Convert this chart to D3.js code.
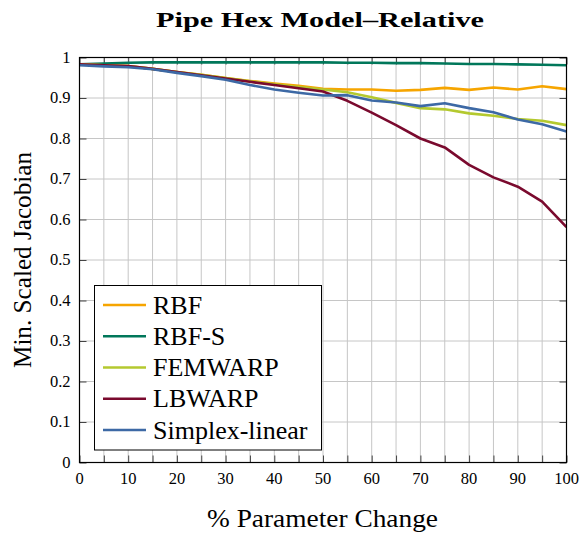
<!DOCTYPE html>
<html>
<head>
<meta charset="utf-8">
<script src="https://cdn.jsdelivr.net/npm/d3@7"></script>
<style>
  html, body { margin: 0; padding: 0; background: #fff; }
  svg text { font-family: "Liberation Serif", "DejaVu Serif", serif; fill: #000; }
</style>
</head>
<body>
<svg id="chart" width="583" height="538"></svg>
<script>
// ---- data ----
const paramChange = [0,5,10,15,20,25,30,35,40,45,50,55,60,65,70,75,80,85,90,95,100];
const seriesNames = ["RBF","RBF-S","FEMWARP","LBWARP","Simplex-linear"];
const rbf       = [0.983,0.981,0.979,0.972,0.964,0.957,0.949,0.942,0.936,0.930,0.923,0.921,0.921,0.918,0.920,0.925,0.920,0.926,0.921,0.929,0.922];
const rbfS      = [0.983,0.985,0.987,0.988,0.988,0.988,0.988,0.988,0.988,0.988,0.988,0.987,0.987,0.986,0.986,0.985,0.984,0.984,0.983,0.982,0.981];
const femwarp   = [0.983,0.981,0.979,0.972,0.964,0.957,0.949,0.941,0.934,0.927,0.921,0.914,0.902,0.888,0.875,0.872,0.862,0.856,0.848,0.844,0.833];
const lbwarp    = [0.983,0.981,0.979,0.972,0.964,0.956,0.948,0.940,0.932,0.924,0.916,0.893,0.864,0.833,0.800,0.778,0.735,0.704,0.681,0.644,0.581];
const simplex   = [0.981,0.978,0.976,0.971,0.962,0.954,0.945,0.932,0.921,0.913,0.906,0.907,0.894,0.889,0.880,0.887,0.875,0.865,0.847,0.835,0.817];
const xTickLabels = [0,10,20,30,40,50,60,70,80,90,100];
const yTickLabels = [0,0.1,0.2,0.3,0.4,0.5,0.6,0.7,0.8,0.9,1];
const colors = ["#f6a500","#00775a","#b4c92f","#7a0a2e","#3d69a5"];
const seriesValues = [rbf, rbfS, femwarp, lbwarp, simplex];
// draw order (later on top): RBF-S, RBF, FEMWARP, LBWARP, Simplex
const drawOrder = [1,0,2,3,4];

// ---- layout ----
const svg = d3.select("#chart");
const L = 79.5, R = 566.5, T = 57.5, B = 462.5;
const x = d3.scaleLinear().domain([0,100]).range([L,R]);
const y = d3.scaleLinear().domain([0,1]).range([B,T]);

const minorX = d3.range(0,101,5);
const gridY = d3.range(0,11).map(d=>d/10);

// grid
const g = svg.append("g");
g.selectAll("line.gx").data(minorX.filter(d=>d>0&&d<100)).enter().append("line")
  .attr("x1",d=>x(d)).attr("x2",d=>x(d)).attr("y1",T).attr("y2",B)
  .attr("stroke","#c6c6c6").attr("stroke-width",1);
g.selectAll("line.gy").data(gridY.filter(d=>d>0&&d<1)).enter().append("line")
  .attr("x1",L).attr("x2",R).attr("y1",d=>y(d)).attr("y2",d=>y(d))
  .attr("stroke","#c6c6c6").attr("stroke-width",1);

// ticks (inward, all four sides)
const tl = 7, tc = "#444";
const axB = d3.axisBottom(x).tickValues(minorX).tickSize(-tl).tickFormat("");
const axT = d3.axisTop(x).tickValues(minorX).tickSize(-tl).tickFormat("");
const axLft = d3.axisLeft(y).tickValues(gridY).tickSize(-tl).tickFormat("");
const axRt = d3.axisRight(y).tickValues(gridY).tickSize(-tl).tickFormat("");
[[axB,`translate(0,${B})`],[axT,`translate(0,${T})`],[axLft,`translate(${L},0)`],[axRt,`translate(${R},0)`]].forEach(([ax,tr])=>{
  const a = svg.append("g").attr("transform",tr).call(ax);
  a.select(".domain").remove();
  a.selectAll("line").attr("stroke",tc).attr("stroke-width",1);
});

// tick labels
svg.selectAll("text.xt").data(xTickLabels).enter().append("text")
  .attr("x",d=>x(d)).attr("y",B+21).attr("text-anchor","middle")
  .attr("font-size",16.5).text(d=>d);
svg.selectAll("text.yt").data(yTickLabels).enter().append("text")
  .attr("x",L-9).attr("y",d=>y(d)+5).attr("text-anchor","end")
  .attr("font-size",16.5).text(d=>d);

// lines
const line = d3.line().x((d,i)=>x(paramChange[i])).y(d=>y(d));
svg.append("clipPath").attr("id","clip").append("rect")
  .attr("x",L).attr("y",T-3).attr("width",R-L).attr("height",B-T+3);
drawOrder.forEach(k=>{
  svg.append("path").datum(seriesValues[k]).attr("d",line)
    .attr("fill","none").attr("stroke",colors[k]).attr("stroke-width",2.6)
    .attr("stroke-linejoin","round").attr("clip-path","url(#clip)");
});

// frame
svg.append("rect").attr("x",L).attr("y",T).attr("width",R-L).attr("height",B-T)
  .attr("fill","none").attr("stroke","#000").attr("stroke-width",1.2);

// legend
const lg = svg.append("g");
lg.append("rect").attr("x",94.5).attr("y",285.5).attr("width",227).attr("height",164.5)
  .attr("fill","#fff").attr("stroke","#000").attr("stroke-width",1);
seriesNames.forEach((name,i)=>{
  const cy = 305 + i*31.25;
  lg.append("line").attr("x1",103).attr("x2",146).attr("y1",cy).attr("y2",cy)
    .attr("stroke",colors[i]).attr("stroke-width",2.6);
  lg.append("text").attr("x",153).attr("y",cy+8.5).attr("font-size",26).text(name);
});

// titles
svg.append("text").attr("x",320).attr("y",27).attr("text-anchor","middle")
  .attr("font-size",20).attr("font-weight","bold")
  .attr("textLength",328).attr("lengthAdjust","spacingAndGlyphs")
  .text("Pipe Hex Model\u2013Relative");
svg.append("text").attr("x",322.5).attr("y",527).attr("text-anchor","middle")
  .attr("font-size",25).attr("textLength",231).attr("lengthAdjust","spacingAndGlyphs")
  .text("% Parameter Change");
svg.append("text").attr("transform",`translate(31,${(T+B)/2}) rotate(-90)`)
  .attr("text-anchor","middle").attr("font-size",25)
  .attr("textLength",216).attr("lengthAdjust","spacingAndGlyphs")
  .text("Min. Scaled Jacobian");
</script>
</body>
</html>
